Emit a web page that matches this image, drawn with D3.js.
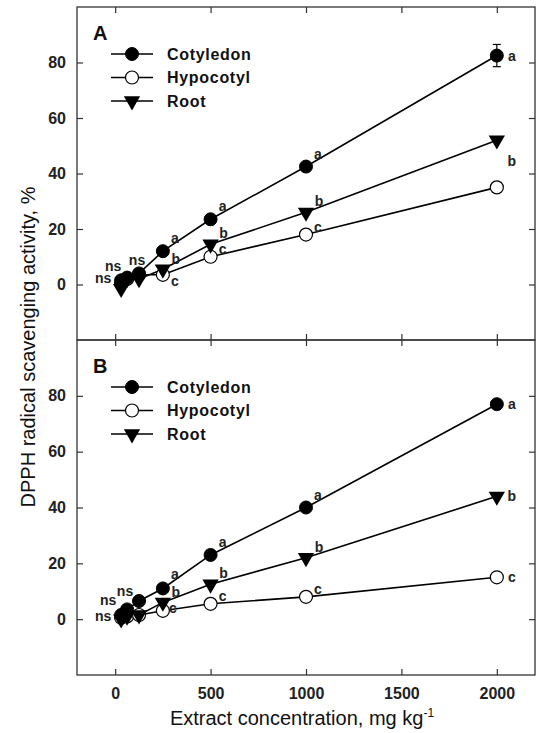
<!DOCTYPE html>
<html><head><meta charset="utf-8">
<script src="https://cdn.jsdelivr.net/npm/d3@7/dist/d3.min.js"></script>
<style>
html,body{margin:0;padding:0;background:#fff;}
svg{display:block;font-family:"Liberation Sans",Arial,sans-serif;}
</style></head>
<body><svg id="c" width="537" height="733"></svg>
<script>
// ---- data ----
const concentrations = [31.25, 62.5, 125, 250, 500, 1000, 2000];
const seriesNames = ["Cotyledon", "Hypocotyl", "Root"];
const xTicks = [0, 500, 1000, 1500, 2000];
const yTicks = [0, 20, 40, 60, 80];
const panelLabels = ["A", "B"];

const A_cotyledon = [1.5, 2.5, 4, 12, 23.5, 42.5, 82.5];
const A_hypocotyl = [0.5, 2, 3.5, 3.5, 10, 18, 35];
const A_root      = [-1.5, 2, 2, 5.5, 14.5, 26, 52];
const A_cotyledonErr = [0, 0, 0, 0, 0, 0, 4];

const B_cotyledon = [1.5, 3.5, 6.5, 11, 23, 40, 77];
const B_hypocotyl = [0.5, 1, 1.5, 3, 5.5, 8, 15];
const B_root      = [0, 1, 1.5, 6, 12.5, 22, 44];

const A_letters_cot = ["", "", "", "a", "a", "a", "a"];
const A_letters_hyp = ["", "", "", "c", "c", "c", ""];
const A_letters_root= ["", "", "", "b", "b", "b", "b"];
const B_letters_cot = ["", "", "", "a", "a", "a", "a"];
const B_letters_hyp = ["", "", "", "c", "c", "c", "c"];
const B_letters_root= ["", "", "", "b", "b", "b", "b"];
const nsLabels = ["ns", "ns", "ns"];

// ---- layout ----
const svg = d3.select("#c");
const L = 77, R = 535;
const defOff = [[12,-13],[12,-8],[13,-11]];
const panels = [
  {top: 7, bottom: 340, label: panelLabels[0],
   series: [A_cotyledon, A_hypocotyl, A_root], err: [A_cotyledonErr, null, null],
   letters: [A_letters_cot, A_letters_hyp, A_letters_root],
   nsOff: [[-18,-2],[-14,-12],[-2,-13]],
   off: (si, i) => {
     if (i === 6) return [[15,0],[0,0],[15,21]][si];
     if (i === 3 && si === 1) return [12,6];
     if (i === 3 && si === 2) return [13,-10];
     return defOff[si];
   }},
  {top: 340, bottom: 675, label: panelLabels[1],
   series: [B_cotyledon, B_hypocotyl, B_root], err: [null, null, null],
   letters: [B_letters_cot, B_letters_hyp, B_letters_root],
   nsOff: [[-18,1],[-19,-9],[-14,-10]],
   off: (si, i) => {
     if (i === 6) return [15,0];
     if (i === 3 && si === 0) return [12,-14];
     if (i === 3 && si === 1) return [10,-3];
     if (i === 3 && si === 2) return [13,-10];
     return defOff[si];
   }}
];
const x = d3.scaleLinear().domain([-200, 2200]).range([L, R]);

function marker(g, type, cx, cy) {
  if (type === 0) {
    g.append("circle").attr("cx", cx).attr("cy", cy).attr("r", 6.5).attr("fill", "#000").attr("stroke", "#000").attr("stroke-width", 1);
  } else if (type === 1) {
    g.append("circle").attr("cx", cx).attr("cy", cy).attr("r", 6.5).attr("fill", "#fff").attr("stroke", "#000").attr("stroke-width", 1.2);
  } else {
    const s = d3.symbol().type(d3.symbolTriangle).size(115)();
    g.append("path").attr("d", s).attr("transform", `translate(${cx},${cy}) rotate(180)`).attr("fill", "#000");
  }
}

panels.forEach((p, pi) => {
  const y = d3.scaleLinear().domain([-20, 100]).range([p.bottom, p.top]);
  const g = svg.append("g");

  g.append("rect").attr("x", L).attr("y", p.top).attr("width", R - L).attr("height", p.bottom - p.top)
    .attr("fill", "none").attr("stroke", "#333").attr("stroke-width", 1.3);

  const ax = (a) => a.selectAll(".domain").remove();
  const styleText = s => s.selectAll("text").attr("font-size", 16).attr("font-weight", "bold").attr("fill", "#222")
      .attr("font-family", "Liberation Sans, Arial, sans-serif");
  const styleLine = s => s.selectAll("line").attr("stroke", "#333").attr("stroke-width", 1.2);
  g.append("g").attr("transform", `translate(${L},0)`)
    .call(d3.axisLeft(y).tickValues(yTicks).tickSize(-6).tickPadding(11).tickFormat(d3.format("d")))
    .call(ax).call(styleText).call(styleLine);
  g.append("g").attr("transform", `translate(${R},0)`)
    .call(d3.axisRight(y).tickValues(yTicks).tickSize(-6).tickFormat(""))
    .call(ax).call(styleLine);
  g.append("g").attr("transform", `translate(0,${p.top})`)
    .call(d3.axisTop(x).tickValues(xTicks).tickSize(-6).tickFormat(""))
    .call(ax).call(styleLine);
  g.append("g").attr("transform", `translate(0,${p.bottom})`)
    .call(d3.axisBottom(x).tickValues(xTicks).tickSize(-6).tickPadding(13).tickFormat(pi === 1 ? d3.format("d") : ""))
    .call(ax).call(styleText).call(styleLine);

  const line = d3.line().x((d, i) => x(concentrations[i])).y(d => y(d));
  const order = [1, 2, 0];
  order.forEach(si => {
    g.append("path").datum(p.series[si]).attr("d", line).attr("fill", "none")
      .attr("stroke", "#000").attr("stroke-width", 1.6);
  });
  order.forEach(si => {
    const vals = p.series[si];
    const err = p.err[si];
    vals.forEach((v, i) => {
      if (err && err[i] > 0) {
        const cx = x(concentrations[i]);
        g.append("line").attr("x1", cx).attr("x2", cx).attr("y1", y(v - err[i])).attr("y2", y(v + err[i])).attr("stroke", "#000").attr("stroke-width", 1.2);
        [v - err[i], v + err[i]].forEach(e => g.append("line").attr("x1", cx - 4).attr("x2", cx + 4).attr("y1", y(e)).attr("y2", y(e)).attr("stroke", "#000").attr("stroke-width", 1.2));
      }
      marker(g, si, x(concentrations[i]), y(v));
    });
  });

  [0, 1, 2].forEach(si => {
    p.letters[si].forEach((t, i) => {
      if (!t) return;
      const off = p.off(si, i);
      g.append("text").attr("x", x(concentrations[i]) + off[0]).attr("y", y(p.series[si][i]) + off[1])
        .attr("text-anchor", "middle").attr("dominant-baseline", "central")
        .attr("font-size", 14).attr("font-weight", "bold").attr("fill", "#222").text(t);
    });
  });
  nsLabels.forEach((t, i) => {
    g.append("text").attr("x", x(concentrations[i]) + p.nsOff[i][0]).attr("y", y(p.series[0][i]) + p.nsOff[i][1])
      .attr("text-anchor", "middle").attr("dominant-baseline", "central")
      .attr("font-size", 14).attr("font-weight", "bold").attr("fill", "#222").text(t);
  });

  g.append("text").attr("x", L + 16).attr("y", p.top + 33).attr("font-size", 20).attr("font-weight", "bold")
    .attr("fill", "#111").text(p.label);

  const ly0 = p.top + 47, dy = 23.5;
  seriesNames.forEach((n, si) => {
    const ly = ly0 + si * dy;
    g.append("line").attr("x1", L + 34).attr("x2", L + 76).attr("y1", ly).attr("y2", ly).attr("stroke", "#000").attr("stroke-width", 1.6);
    marker(g, si, L + 55, ly);
    g.append("text").attr("x", L + 90).attr("y", ly).attr("dominant-baseline", "central")
      .attr("font-size", 16).attr("font-weight", "bold").attr("letter-spacing", 0.7).attr("fill", "#111").text(n);
  });
});

svg.append("text").attr("transform", `translate(28,347) rotate(-90)`).attr("text-anchor", "middle")
  .attr("dominant-baseline", "central").attr("font-size", 20).attr("fill", "#111")
  .text("DPPH radical scavenging activity, %");
const xt = svg.append("text").attr("x", 302).attr("y", 725).attr("text-anchor", "middle")
  .attr("font-size", 20).attr("fill", "#111");
xt.append("tspan").text("Extract concentration, mg kg");
xt.append("tspan").attr("dy", -8).attr("font-size", 12).text("-1");
</script></body></html>
